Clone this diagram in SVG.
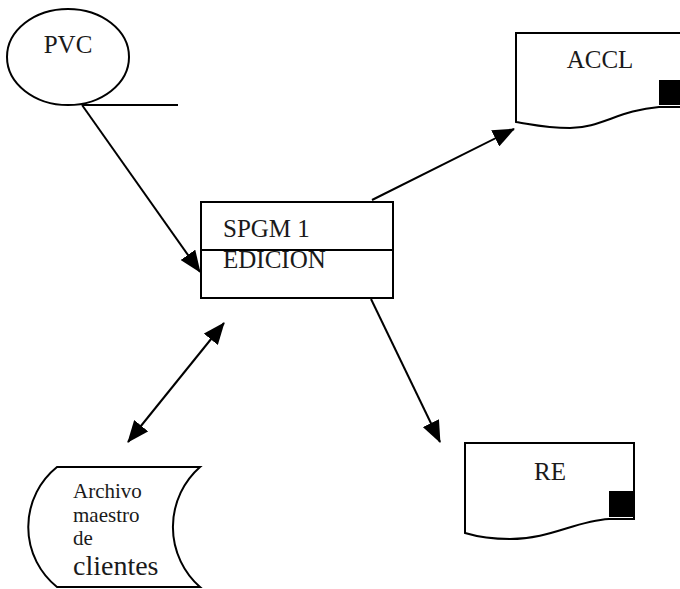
<svg xmlns="http://www.w3.org/2000/svg" width="680" height="589" viewBox="0 0 680 589">
<style>
.s{fill:#fff;stroke:#000;stroke-width:2}
.l{fill:none;stroke:#000;stroke-width:2}
.t{font-family:"Liberation Serif","Times New Roman",serif;font-size:25px;fill:#1a1a1a}
.a{fill:none;stroke:#000;stroke-width:2;marker-end:url(#ah)}
</style>
<defs>
<marker id="ah" markerUnits="userSpaceOnUse" markerWidth="22" markerHeight="18" refX="21" refY="9" orient="auto-start-reverse" viewBox="0 0 22 18">
<path d="M0,0 L22,9 L0,18 z" fill="#000"/>
</marker>
</defs>
<rect width="680" height="589" fill="#fff"/>
<g id="connectors">
<line class="a" x1="82" y1="105" x2="200" y2="272"/>
<line class="a" x1="372" y1="200" x2="514" y2="129"/>
<line class="a" x1="371" y1="299" x2="440" y2="442"/>
<line class="a" style="marker-start:url(#ah)" x1="224" y1="323" x2="128" y2="442"/>
</g>
<g id="pvc">
<ellipse class="s" cx="68" cy="57" rx="61" ry="48"/>
<line class="l" x1="82" y1="105" x2="178" y2="105"/>
<text class="t" x="68" y="53" text-anchor="middle">PVC</text>
</g>
<g id="spgm">
<rect class="s" x="201" y="202" width="192" height="96"/>
<line class="l" x1="201" y1="250" x2="393" y2="250"/>
<text class="t" x="223" y="237">SPGM 1</text>
<text class="t" x="223" y="268">EDICION</text>
</g>
<g id="accl">
<path class="s" d="M516,122 L516,33 L690,33 L690,107 L659,107 C620,110 600,128 570,128 C545,128 530,124 516,122 Z"/>
<rect x="659" y="80" width="25" height="25" fill="#000"/>
<text class="t" x="600" y="68" text-anchor="middle">ACCL</text>
</g>
<g id="re">
<path class="s" d="M465,533 L465,443 L634,443 L634,519 L609,519 C575,521 550,539 510,539 C490,539 475,536 465,533 Z"/>
<rect x="609" y="491" width="25" height="26" fill="#000"/>
<text class="t" x="550" y="480" text-anchor="middle">RE</text>
</g>
<g id="archivo">
<path class="s" d="M57,467 L200,467 A80,80 0 0 0 200,587 L57,587 A77,77 0 0 1 57,467 Z"/>
<text class="t" x="73" y="498" style="font-size:21px">Archivo</text>
<text class="t" x="73" y="522" style="font-size:21px">maestro</text>
<text class="t" x="73" y="545" style="font-size:21px">de</text>
<text class="t" x="73" y="575" style="font-size:28px">clientes</text>
</g>
</svg>
